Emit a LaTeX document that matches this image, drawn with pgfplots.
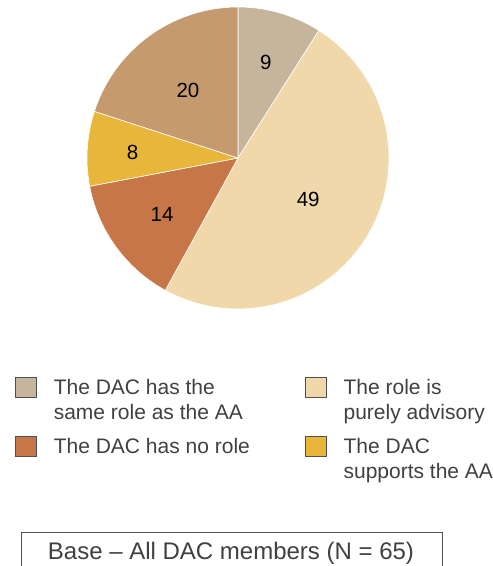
\documentclass[border=0pt]{standalone}
\usepackage{pgfplots}
\pgfplotsset{compat=1.18}
\usepackage{fontspec}
\setmainfont{Liberation Sans}
\definecolor{cA}{HTML}{C4B59C}
\definecolor{cB}{HTML}{F0D8AB}
\definecolor{cC}{HTML}{C77747}
\definecolor{cD}{HTML}{E9B63C}
\definecolor{cE}{HTML}{C49A6E}
\definecolor{legtext}{HTML}{404040}
\definecolor{boxborder}{HTML}{505050}
\begin{document}
\begin{tikzpicture}
\path[use as bounding box] (0,0) rectangle (493bp,566bp);
\begin{axis}[
  at={(238bp,408bp)}, anchor=center,
  x=151bp, y=151bp,
  xmin=-1, xmax=1, ymin=-1, ymax=1,
  hide axis, clip=false,
  legend columns=2,
  legend cell align=left,
  legend style={
    at={(-0.2384,-0.2252)}, anchor=north west,
    draw=none, fill=none, inner sep=0pt, outer sep=0pt,
    cells={anchor=base west},
    nodes={inner sep=0pt, text depth=, text height=, text=legtext},
    row sep=12bp,
    font=\fontsize{21bp}{25bp}\selectfont,
    /tikz/every odd column/.append style={column sep=17bp},
  },
  legend image code/.code={\draw[#1, draw=boxborder, line width=0.8bp] (0bp,-3bp) rectangle (21bp,17bp);},
]
% slice 9
\addplot[data cs=polar, fill=cA, draw=white, line width=0.6bp] coordinates {
(0,0) (90,1) (87,1) (84,1) (81,1) (78,1) (75,1) (72,1) (69,1) (66,1) (63,1) (60,1) (57.6,1) (0,0)};
\addlegendentry{\parbox[t]{251bp}{\raggedright The DAC has the\\same role as the AA}}
% slice 49
\addplot[data cs=polar, fill=cB, draw=white, line width=0.6bp] coordinates {
(0,0) (57.6,1) (54,1) (51,1) (48,1) (45,1) (42,1) (39,1) (36,1) (33,1) (30,1) (27,1) (24,1) (21,1) (18,1) (15,1) (12,1) (9,1) (6,1) (3,1) (0,1)
(-3,1) (-6,1) (-9,1) (-12,1) (-15,1) (-18,1) (-21,1) (-24,1) (-27,1) (-30,1) (-33,1) (-36,1) (-39,1) (-42,1) (-45,1) (-48,1) (-51,1) (-54,1) (-57,1) (-60,1)
(-63,1) (-66,1) (-69,1) (-72,1) (-75,1) (-78,1) (-81,1) (-84,1) (-87,1) (-90,1) (-93,1) (-96,1) (-99,1) (-102,1) (-105,1) (-108,1) (-111,1) (-114,1) (-117,1) (-118.8,1) (0,0)};
\addlegendentry{\parbox[t]{150bp}{\raggedright The role is\\purely advisory}}
% slice 14
\addplot[data cs=polar, fill=cC, draw=white, line width=0.6bp] coordinates {
(0,0) (-118.8,1) (-120,1) (-123,1) (-126,1) (-129,1) (-132,1) (-135,1) (-138,1) (-141,1) (-144,1) (-147,1) (-150,1) (-153,1) (-156,1) (-159,1) (-162,1) (-165,1) (-168,1) (-169.2,1) (0,0)};
\addlegendentry{\parbox[t]{251bp}{\raggedright The DAC has no role}}
% slice 8
\addplot[data cs=polar, fill=cD, draw=white, line width=0.6bp] coordinates {
(0,0) (-169.2,1) (-171,1) (-174,1) (-177,1) (-180,1) (-183,1) (-186,1) (-189,1) (-192,1) (-195,1) (-198,1) (0,0)};
\addlegendentry{\parbox[t]{150bp}{\raggedright The DAC\\supports the AA}}
% slice 20
\addplot[data cs=polar, fill=cE, draw=white, line width=0.6bp, forget plot] coordinates {
(0,0) (-198,1) (-201,1) (-204,1) (-207,1) (-210,1) (-213,1) (-216,1) (-219,1) (-222,1) (-225,1) (-228,1) (-231,1) (-234,1)
(-237,1) (-240,1) (-243,1) (-246,1) (-249,1) (-252,1) (-255,1) (-258,1) (-261,1) (-264,1) (-267,1) (-270,1) (0,0)};
% value labels
\addplot[data cs=polar, only marks, mark=*, mark size=0pt, mark options={draw=none, fill=none}, forget plot,
  nodes near coords, point meta=explicit symbolic,
  nodes near coords style={anchor=center, inner sep=0pt, font=\fontsize{20.5bp}{24bp}\selectfont, text=black}]
coordinates {(73.8,0.66) [9] (-30.6,0.54) [49] (-143.6,0.625) [14] (176.8,0.70) [8] (126.7,0.555) [20]};
\end{axis}
\draw[boxborder, line width=0.8bp] (21bp,-5bp) -- (21bp,34bp) -- (442bp,34bp) -- (442bp,-5bp);
\node[anchor=base, inner sep=0pt, text=legtext, font=\fontsize{24bp}{28bp}\selectfont] at (231bp,7bp) {Base – All DAC members (N = 65)};
\end{tikzpicture}
\end{document}
